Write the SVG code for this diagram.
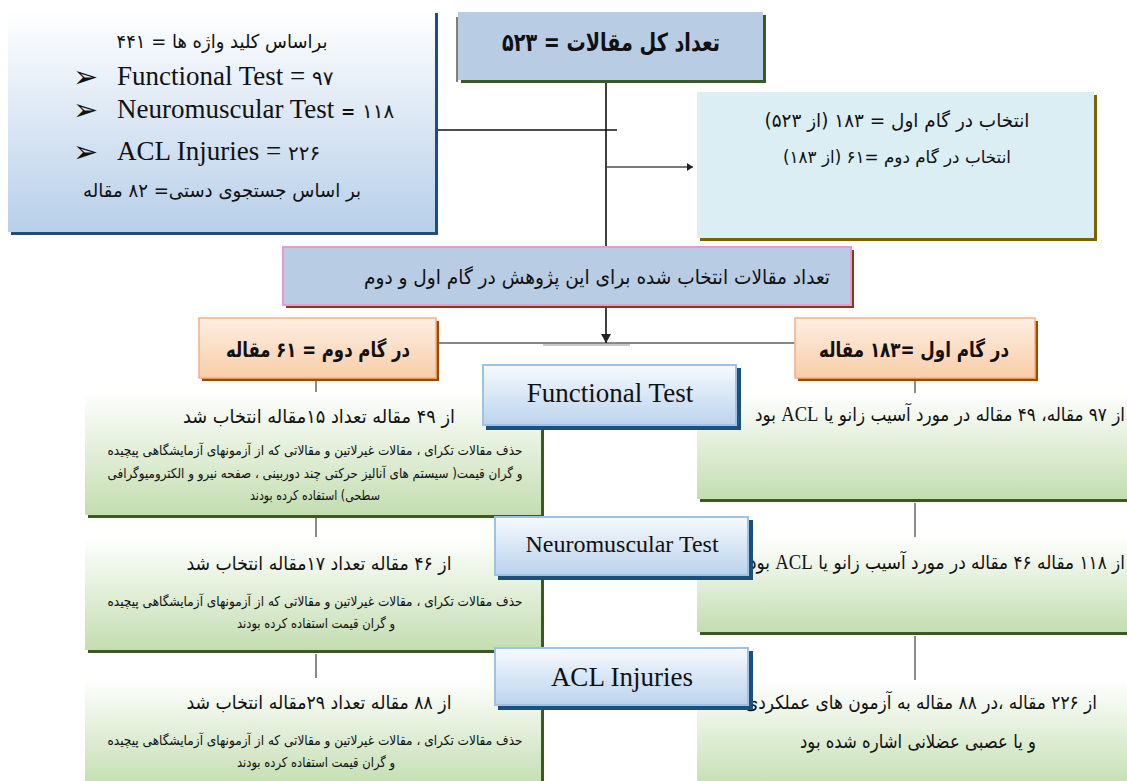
<svg xmlns="http://www.w3.org/2000/svg" width="1127" height="781" viewBox="0 0 1127 781">
<defs>
<linearGradient id="gTopLeft" x1="0" y1="0" x2="0" y2="1"><stop offset="0" stop-color="#ffffff"/><stop offset="1" stop-color="#b7cfe9"/></linearGradient>
<linearGradient id="gGreen" x1="0" y1="0" x2="0" y2="1"><stop offset="0" stop-color="#ffffff"/><stop offset="0.15" stop-color="#f6faf3"/><stop offset="1" stop-color="#c3ddb0"/></linearGradient>
<linearGradient id="gOrange" x1="0" y1="0" x2="0" y2="1"><stop offset="0" stop-color="#fdefe3"/><stop offset="1" stop-color="#f9cda8"/></linearGradient>
<linearGradient id="gCat" x1="0" y1="0" x2="0" y2="1"><stop offset="0" stop-color="#f7fafd"/><stop offset="1" stop-color="#bad3ed"/></linearGradient>
<marker id="arrowDown" markerWidth="10" markerHeight="10" refX="9" refY="5" orient="auto" markerUnits="userSpaceOnUse" viewBox="0 0 10 10"><path d="M0,0 L9,5 L0,10 z" fill="#222"/></marker>
<marker id="arrowRight" markerWidth="7" markerHeight="8" refX="6" refY="4" orient="auto" markerUnits="userSpaceOnUse" viewBox="0 0 7 8"><path d="M0,0 L6,4 L0,8 z" fill="#222"/></marker>
</defs>
<style>
.fa{font-family:'DejaVu Sans',sans-serif;fill:#111;direction:rtl;unicode-bidi:embed}
.en{font-family:'Liberation Serif','Times New Roman',serif;fill:#111}
.lat{font-family:'Liberation Serif','Times New Roman',serif;font-size:21px}
.b{font-weight:bold}
.arr{font-family:'DejaVu Sans',sans-serif;font-size:30px;fill:#111}
.conn{stroke:#111;fill:none}
.gconn{stroke:#8c8c8c;stroke-width:2;fill:none}
.gbox{fill:url(#gGreen)}
.gsh{fill:#3a5a22}
.cat{fill:url(#gCat);stroke:#9cc2e5;stroke-width:2}
.catsh{fill:#1f4e79}
.ora{fill:url(#gOrange);stroke:#f4b183;stroke-width:1.5}
.orash{fill:#9a4a06}
</style>

<g id="connectors">
<line class="conn" x1="606" y1="82" x2="606" y2="246" stroke-width="1.6"/>
<line class="conn" x1="437" y1="130" x2="617" y2="130" stroke-width="1.3"/>
<line x1="607" y1="167" x2="693" y2="167" stroke="#7a7a7a" stroke-width="2.2" marker-end="url(#arrowRight)"/>
<line class="conn" x1="606" y1="307" x2="606" y2="343" stroke-width="1.6" marker-end="url(#arrowDown)"/>
<line class="conn" x1="437" y1="343" x2="795" y2="343" stroke-width="1"/>
<line x1="543" y1="345" x2="630" y2="345" stroke="#c8c8c8" stroke-width="2"/>
<line class="gconn" x1="316" y1="381" x2="316" y2="392"/>
<line class="gconn" x1="316" y1="518" x2="316" y2="537"/>
<line class="gconn" x1="316" y1="654" x2="316" y2="678"/>
<line class="gconn" x1="915" y1="381" x2="915" y2="393"/>
<line class="gconn" x1="915" y1="503" x2="915" y2="537"/>
<line class="gconn" x1="915" y1="636" x2="915" y2="680"/>
</g>

<g id="keywords">
<rect x="11" y="13" width="427" height="222" fill="#1f4e79"/>
<rect x="8" y="10" width="427" height="222" fill="url(#gTopLeft)"/>
<text class="fa" x="222" y="48" font-size="19" text-anchor="middle" textLength="211" lengthAdjust="spacingAndGlyphs">براساس کلید واژه ها = ۴۴۱</text>
<text class="arr" x="73" y="87">➢</text>
<text class="en" x="117" y="85" font-size="27">Functional Test = <tspan font-family="'DejaVu Sans',sans-serif" font-size="20">۹۷</tspan></text>
<text class="arr" x="73" y="120">➢</text>
<text class="en" x="117" y="118" font-size="27">Neuromuscular Test  <tspan font-family="'DejaVu Sans',sans-serif" font-size="17" font-weight="bold">=</tspan> <tspan font-family="'DejaVu Sans',sans-serif" font-size="20">۱۱۸</tspan></text>
<text class="arr" x="73" y="162">➢</text>
<text class="en" x="117" y="160" font-size="27">ACL Injuries = <tspan font-family="'DejaVu Sans',sans-serif" font-size="20">۲۲۶</tspan></text>
<text class="fa" x="222" y="197" font-size="19" text-anchor="middle" textLength="278" lengthAdjust="spacingAndGlyphs">بر اساس جستجوی دستی= ۸۲ مقاله</text>
</g>

<g id="total">
<line x1="457" y1="17" x2="457" y2="82" stroke="#555" stroke-width="1.5"/>
<rect x="461" y="15" width="305" height="68" fill="#3a5a22"/>
<rect x="458" y="12" width="305" height="68" fill="#b8cce4"/>
<text class="fa b" x="611" y="51" font-size="25" text-anchor="middle" textLength="218" lengthAdjust="spacingAndGlyphs">تعداد کل مقالات = ۵۲۳</text>
</g>

<g id="selection">
<rect x="700" y="95" width="397" height="146" fill="#7f6000"/>
<rect x="697" y="92" width="397" height="146" fill="#daeef3"/>
<text class="fa" x="897" y="127" font-size="19" text-anchor="middle" textLength="265" lengthAdjust="spacingAndGlyphs">انتخاب در گام اول = ۱۸۳ (از ۵۲۳)</text>
<text class="fa" x="897" y="163" font-size="17" text-anchor="middle" textLength="228" lengthAdjust="spacingAndGlyphs">انتخاب در گام دوم =۶۱ (از ۱۸۳)</text>
</g>

<g id="selected-total">
<rect x="286" y="250" width="568" height="58" fill="#843c0c"/>
<rect x="283" y="247" width="568" height="58" fill="#b8cce4" stroke="#e69ad6" stroke-width="2"/>
<text class="fa" x="597" y="284" font-size="20" text-anchor="middle" textLength="466" lengthAdjust="spacingAndGlyphs">تعداد مقالات انتخاب شده برای این پژوهش در گام اول و دوم</text>
</g>

<g id="step2">
<rect class="orash" x="202" y="321" width="237" height="60"/>
<rect class="ora" x="199" y="318" width="237" height="60"/>
<text class="fa b" x="318" y="357" font-size="21" text-anchor="middle" textLength="184" lengthAdjust="spacingAndGlyphs">در گام دوم = ۶۱ مقاله</text>
</g>

<g id="step1">
<rect class="orash" x="798" y="321" width="240" height="60"/>
<rect class="ora" x="795" y="318" width="240" height="60"/>
<text class="fa b" x="914" y="357" font-size="21" text-anchor="middle" textLength="190" lengthAdjust="spacingAndGlyphs">در گام اول =۱۸۳ مقاله</text>
</g>

<g id="left-functional">
<rect class="gsh" x="88" y="395" width="456" height="123"/>
<rect class="gbox" x="85" y="392" width="456" height="123"/>
<text class="fa" x="319" y="423" font-size="19" text-anchor="middle" textLength="272" lengthAdjust="spacingAndGlyphs">از ۴۹ مقاله تعداد ۱۵مقاله انتخاب شد</text>
<text class="fa" x="315" y="455" font-size="13.5" text-anchor="middle" textLength="415" lengthAdjust="spacingAndGlyphs">حذف مقالات تکرای ، مقالات غیرلاتین و مقالاتی که از آزمونهای آزمایشگاهی پیچیده</text>
<text class="fa" x="315" y="478" font-size="13.5" text-anchor="middle" textLength="415" lengthAdjust="spacingAndGlyphs">و گران قیمت( سیستم های آنالیز حرکتی چند دوربینی ،  صفحه نیرو و الکترومیوگرافی</text>
<text class="fa" x="315" y="500" font-size="13.5" text-anchor="middle" textLength="130" lengthAdjust="spacingAndGlyphs">سطحی) استفاده کرده بودند</text>
</g>

<g id="left-neuromuscular">
<rect class="gsh" x="88" y="540" width="456" height="113"/>
<rect class="gbox" x="85" y="537" width="456" height="113"/>
<text class="fa" x="319" y="570" font-size="19" text-anchor="middle" textLength="265" lengthAdjust="spacingAndGlyphs">از ۴۶ مقاله تعداد ۱۷مقاله انتخاب شد</text>
<text class="fa" x="315" y="606" font-size="13.5" text-anchor="middle" textLength="415" lengthAdjust="spacingAndGlyphs">حذف مقالات تکرای ، مقالات غیرلاتین و مقالاتی که از آزمونهای آزمایشگاهی پیچیده</text>
<text class="fa" x="316" y="628" font-size="13.5" text-anchor="middle" textLength="158" lengthAdjust="spacingAndGlyphs">و گران قیمت استفاده کرده بودند</text>
</g>

<g id="left-acl">
<rect class="gsh" x="88" y="681" width="456" height="110"/>
<rect class="gbox" x="85" y="678" width="456" height="110"/>
<text class="fa" x="319" y="709" font-size="19" text-anchor="middle" textLength="265" lengthAdjust="spacingAndGlyphs">از ۸۸ مقاله تعداد ۲۹مقاله انتخاب شد</text>
<text class="fa" x="315" y="745" font-size="13.5" text-anchor="middle" textLength="415" lengthAdjust="spacingAndGlyphs">حذف مقالات تکرای ، مقالات غیرلاتین و مقالاتی که از آزمونهای آزمایشگاهی پیچیده</text>
<text class="fa" x="316" y="767" font-size="13.5" text-anchor="middle" textLength="158" lengthAdjust="spacingAndGlyphs">و گران قیمت استفاده کرده بودند</text>
</g>

<g id="right-functional">
<rect class="gsh" x="700" y="396" width="440" height="106"/>
<rect class="gbox" x="697" y="393" width="440" height="106"/>
<text class="fa" x="940" y="421" font-size="19" text-anchor="middle" textLength="370" lengthAdjust="spacingAndGlyphs">از ۹۷ مقاله، ۴۹ مقاله در مورد آسیب زانو یا <tspan class="lat">ACL</tspan> بود</text>
</g>

<g id="right-neuromuscular">
<rect class="gsh" x="700" y="540" width="440" height="95"/>
<rect class="gbox" x="697" y="537" width="440" height="95"/>
<text class="fa" x="937" y="569" font-size="19" text-anchor="middle" textLength="376" lengthAdjust="spacingAndGlyphs">از ۱۱۸ مقاله ۴۶ مقاله در مورد آسیب زانو یا <tspan class="lat">ACL</tspan> بود</text>
</g>

<g id="right-acl">
<rect class="gbox" x="697" y="680" width="440" height="110"/>
<text class="fa" x="921" y="709" font-size="19" text-anchor="middle" textLength="352" lengthAdjust="spacingAndGlyphs">از ۲۲۶ مقاله ،در ۸۸ مقاله به آزمون های عملکردی</text>
<text class="fa" x="918" y="748" font-size="19" text-anchor="middle" textLength="236" lengthAdjust="spacingAndGlyphs">و یا عصبی عضلانی اشاره شده بود</text>
</g>

<g id="cat-functional">
<rect class="catsh" x="486" y="368" width="255" height="62"/>
<rect class="cat" x="483" y="365" width="253" height="60"/>
<text class="en" x="610" y="402" font-size="27" text-anchor="middle">Functional Test</text>
</g>

<g id="cat-neuromuscular">
<rect class="catsh" x="498" y="520" width="255" height="60"/>
<rect class="cat" x="495" y="517" width="253" height="58"/>
<text class="en" x="622" y="552" font-size="24" text-anchor="middle">Neuromuscular Test</text>
</g>

<g id="cat-acl">
<rect class="catsh" x="498" y="651" width="255" height="59"/>
<rect class="cat" x="495" y="648" width="253" height="57"/>
<text class="en" x="622" y="686" font-size="27" text-anchor="middle">ACL Injuries</text>
</g>
</svg>
